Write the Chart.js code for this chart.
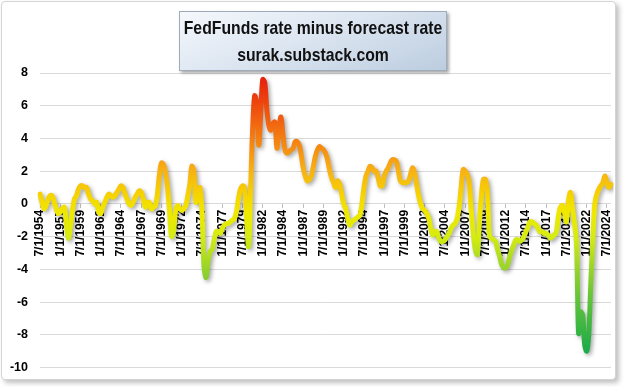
<!DOCTYPE html>
<html>
<head>
<meta charset="utf-8">
<script src="https://cdn.jsdelivr.net/npm/chart.js@4.4.1/dist/chart.umd.min.js"></script>
<style>
  html, body { margin: 0; padding: 0; background: #fff; }
  #wrap { position: relative; width: 627px; height: 387px; overflow: hidden; }
  #frame {
    position: absolute; left: 1px; top: 1px; width: 613px; height: 377px;
    border: 1px solid #d4d4d4; border-radius: 4px; background: #fff;
    box-shadow: 3px 3px 5px rgba(0, 0, 0, 0.25);
  }
  #chart { position: absolute; left: 0; top: 0; }
  #title {
    position: absolute; left: 179px; top: 11px; width: 268px; height: 60px;
    box-sizing: border-box; border: 1px solid #9eabba;
    background: linear-gradient(160deg, #f5f8fc 0%, #dde6f1 45%, #bccde0 100%);
    box-shadow: 2px 2px 3px rgba(0, 0, 0, 0.35);
    color: #111; white-space: nowrap;
    font-family: "Liberation Sans", Arial, sans-serif;
    font-weight: bold; font-size: 19px; line-height: 27px;
  }
  #title div {
    position: absolute; left: 50%;
    transform: translateX(-50%) scaleX(0.83);
  }
  #title .l1 { top: 2px; }
  #title .l2 { top: 29px; }
</style>
</head>
<body>
<div id="wrap">
  <div id="frame"></div>
  <canvas id="chart" width="627" height="387"></canvas>
  <div id="title"><div class="l1">FedFunds rate minus forecast rate</div><div class="l2">surak.substack.com</div></div>
</div>
<script>
// quarterly observations, first one is 7/1/1954
const startYear = 1954;
const startMonth = 7;
const tickEvery = 10; // one label every 2.5 years

const values = [
  0.6, 0.1,                 // 1954 (Jul, Oct)
  -0.3, -0.1, 0.3, 0.5,     // 1955
  0.5, 0.1, -0.3, -0.6,     // 1956
  -0.5, -0.3, -0.2, -1.2,   // 1957
  -2.1, -1.4, -0.4, 0.3,    // 1958
  0.5, 0.9, 1.1, 1.1,       // 1959
  1.0, 1.0, 0.6, 0.3,       // 1960
  0.2, 0.0, 0.1, -0.5,      // 1961
  -0.6, -0.2, 0.1, 0.4,     // 1962
  0.6, 0.5, 0.4, 0.5,       // 1963
  0.7, 0.9, 1.1, 1.0,       // 1964
  0.6, 0.3, 0.0, -0.1,      // 1965
  0.1, 0.4, 0.6, 0.8,       // 1966
  0.7, 0.3, -0.2, 0.1,      // 1967
  0.1, -0.3, -0.2, -0.1,    // 1968
  0.6, 1.8, 2.5, 2.4,       // 1969
  1.9, 1.0, -0.5, -2.0,     // 1970
  -1.6, -0.4, -0.1, -0.3,   // 1971
  -0.4, -0.3, -0.1, 0.5,    // 1972
  1.2, 2.3, 2.0, 0.1,       // 1973
  0.5, 1.0, -0.5, -3.8,     // 1974
  -4.5, -3.5, -2.9, -2.8,   // 1975
  -2.2, -1.7, -1.7, -1.8,   // 1976
  -1.5, -1.3, -1.2, -1.2,   // 1977
  -1.1, -1.0, -0.9, -0.5,   // 1978
  0.3, 0.9, 1.1, 1.0,       // 1979
  -0.8, -2.6, 0.8, 4.5,     // 1980
  6.6, 6.2, 3.6, 5.5,       // 1981
  7.6, 7.4, 5.8, 4.8,       // 1982
  4.5, 4.9, 5.0, 3.4,       // 1983
  4.6, 5.3, 4.2, 3.3,       // 1984
  3.1, 3.2, 3.3, 3.4,       // 1985
  3.8, 3.8, 3.6, 3.0,       // 1986
  2.2, 1.7, 1.4, 1.5,       // 1987
  1.7, 2.3, 2.9, 3.3,       // 1988
  3.5, 3.4, 3.3, 3.1,       // 1989
  2.7, 2.1, 1.6, 1.3,       // 1990
  1.0, 1.4, 1.2, 0.6,       // 1991
  0.0, -0.3, -0.9, -1.3,    // 1992
  -1.1, -1.0, -0.9, -0.8,   // 1993
  -0.7, 0.0, 1.0, 1.7,      // 1994
  2.0, 2.3, 2.2, 2.0,       // 1995
  2.0, 1.6, 1.1, 1.1,       // 1996
  1.7, 2.0, 2.2, 2.5,       // 1997
  2.7, 2.7, 2.6, 2.0,       // 1998
  1.4, 1.3, 1.3, 1.3,       // 1999
  1.4, 1.8, 2.2, 1.9,       // 2000
  1.2, 0.5, 0.0, -0.3,      // 2001
  -0.4, -0.6, -0.9, -1.5,   // 2002
  -1.9, -1.7, -1.7, -2.1,   // 2003
  -2.3, -2.3, -2.2, -2.0,   // 2004
  -1.8, -1.5, -1.3, -1.2,   // 2005
  -0.9, -0.2, 1.0, 2.1,     // 2006
  2.0, 1.8, 1.3, -0.5,      // 2007
  -1.8, -2.8, -3.1, -1.2,   // 2008
  0.5, 1.5, 1.5, 0.6,       // 2009
  -2.0, -2.1, -2.2, -2.3,   // 2010
  -2.8, -3.2, -3.7, -3.9,   // 2011
  -3.9, -3.7, -3.2, -2.8,   // 2012
  -2.5, -2.2, -2.2, -2.3,   // 2013
  -2.2, -2.0, -1.7, -1.4,   // 2014
  -1.1, -1.1, -1.2, -1.3,   // 2015
  -1.5, -1.7, -1.7, -1.8,   // 2016
  -1.8, -1.9, -2.1, -2.0,   // 2017
  -1.9, -1.7, -0.8, -0.2,   // 2018
  -0.1, -0.5, -1.1, 0.2,    // 2019
  0.7, -0.3, -1.2, -2.5,    // 2020
  -7.9, -6.6, -6.8, -8.6,   // 2021
  -9.0, -8.0, -5.0, -2.2,   // 2022
  0.0, 0.6, 0.9, 1.1,       // 2023
  1.3, 1.7, 1.3, 1.0,       // 2024
  1.2                       // 2025 (Jan)
];

const yTicks = { min: -10, max: 8, step: 2 };

// colour of the line by value, red at the top down to green at the bottom
const colorStops = [
  [8, '#e3190c'],
  [6, '#ee4a0e'],
  [4, '#f47e12'],
  [2, '#f7b214'],
  [0.5, '#f6d400'],
  [-0.5, '#f0e800'],
  [-2, '#d6ec10'],
  [-4, '#96d32a'],
  [-6, '#5cc23b'],
  [-9, '#1daa48']
];

const labels = values.map((v, i) => {
  const m = startMonth - 1 + i * 3;
  return (m % 12 + 1) + '/1/' + (startYear + Math.floor(m / 12));
});

const lineShadow = {
  id: 'lineShadow',
  beforeDatasetDraw(chart) {
    const ctx = chart.ctx;
    ctx.save();
    ctx.shadowColor = 'rgba(0, 0, 0, 0.35)';
    ctx.shadowBlur = 4;
    ctx.shadowOffsetX = 2;
    ctx.shadowOffsetY = 2;
  },
  afterDatasetDraw(chart) {
    chart.ctx.restore();
  }
};

const ctx = document.getElementById('chart').getContext('2d');
new Chart(ctx, {
  type: 'line',
  data: {
    labels: labels,
    datasets: [{
      data: values,
      borderWidth: 5,
      pointRadius: 0,
      tension: 0.35,
      fill: false,
      borderCapStyle: 'round',
      borderJoinStyle: 'round',
      borderColor: (context) => {
        const chart = context.chart;
        if (!chart.chartArea) return '#f6d400';
        const y = chart.scales.y;
        const top = y.getPixelForValue(yTicks.max);
        const bottom = y.getPixelForValue(yTicks.min);
        const g = chart.ctx.createLinearGradient(0, top, 0, bottom);
        colorStops.forEach(([v, c]) => {
          g.addColorStop((yTicks.max - v) / (yTicks.max - yTicks.min), c);
        });
        return g;
      }
    }]
  },
  options: {
    responsive: false,
    animation: false,
    layout: {
      padding: { top: 73, right: 16, bottom: 16, left: 0 }
    },
    plugins: {
      legend: { display: false },
      tooltip: { enabled: false },
      title: { display: false }
    },
    scales: {
      x: {
        type: 'category',
        position: { y: 0 },
        offset: false,
        grid: {
          display: true,
          drawOnChartArea: false,
          drawTicks: true,
          tickLength: 4,
          color: '#bfbfbf'
        },
        border: { display: false },
        ticks: {
          autoSkip: false,
          minRotation: 90,
          maxRotation: 90,
          padding: 2,
          color: '#000',
          font: { family: 'Liberation Sans', size: 12, weight: 'bold' },
          callback: (value, index) => (index % tickEvery === 0 ? labels[index] : null)
        }
      },
      y: {
        min: yTicks.min,
        max: yTicks.max,
        ticks: {
          stepSize: yTicks.step,
          padding: 12,
          color: '#000',
          font: { family: 'Liberation Sans', size: 12.5, weight: 'bold' }
        },
        grid: { color: '#d9d9d9', drawTicks: false },
        border: { display: false },
        afterFit: (scale) => { scale.width = 40; }
      }
    }
  },
  plugins: [lineShadow]
});
</script>
</body>
</html>
